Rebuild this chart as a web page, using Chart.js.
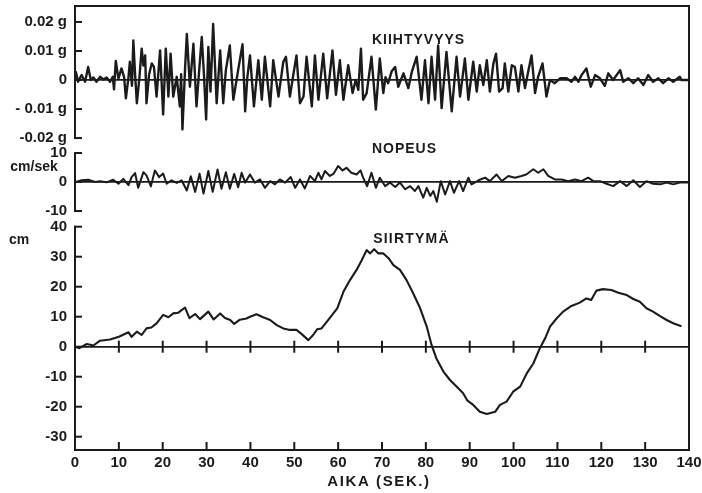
<!DOCTYPE html>
<html>
<head>
<meta charset="utf-8">
<script src="https://cdn.jsdelivr.net/npm/chart.js@4.4.1/dist/chart.umd.min.js"></script>
<style>
  html, body { margin: 0; padding: 0; background: #fff; }
</style>
</head>
<body>
<canvas id="seismo" width="702" height="493"></canvas>
<script>
// [time s, acceleration g]
const accel = [
  [0.2, 0.0028], [0.7, -0.0006], [1.5, 0.0017], [2.3, -0.0006], [3.0, 0.0045], [3.6, 0.0000],
  [4.2, 0.0009], [4.9, -0.0006], [5.7, 0.0011], [6.5, 0.0002], [7.2, 0.0009], [8.0, -0.0006],
  [8.6, 0.0011], [8.9, -0.0032], [9.3, 0.0066], [9.9, 0.0005], [10.6, 0.0040], [11.2, 0.0010],
  [11.6, -0.0063], [12.2, 0.0010], [12.5, 0.0063], [13.0, -0.0020], [13.3, 0.0136], [13.7, 0.0020],
  [14.1, -0.0080], [14.7, 0.0010], [15.2, 0.0108], [15.6, 0.0050], [16.0, 0.0085], [16.3, -0.0080],
  [16.9, 0.0020], [17.5, 0.0057], [18.0, 0.0045], [18.6, -0.0057], [19.4, 0.0102], [20.1, -0.0119],
  [20.7, 0.0108], [21.3, -0.0057], [21.8, 0.0091], [22.4, -0.0057], [23.2, 0.0011], [23.9, -0.0091],
  [24.2, 0.0020], [24.5, -0.0170], [25.1, 0.0040], [25.5, 0.0159], [26.2, -0.0023], [27.0, 0.0125],
  [27.7, -0.0091], [28.3, 0.0030], [28.9, 0.0148], [29.4, 0.0020], [29.9, -0.0136], [30.4, 0.0114],
  [30.9, -0.0040], [31.5, 0.0193], [32.3, -0.0080], [33.1, 0.0102], [33.8, -0.0080], [34.4, 0.0034],
  [35.3, 0.0119], [36.1, -0.0068], [37.2, 0.0034], [38.2, 0.0123], [38.8, -0.0108], [39.3, 0.0010],
  [39.9, 0.0085], [40.8, -0.0091], [41.8, 0.0068], [42.6, -0.0068], [43.3, 0.0080], [44.5, -0.0091],
  [45.2, 0.0068], [46.4, -0.0057], [47.5, 0.0063], [48.1, 0.0080], [49.0, -0.0057], [49.8, 0.0020],
  [50.5, 0.0085], [51.3, -0.0080], [52.1, -0.0057], [52.8, 0.0080], [54.0, -0.0091], [54.7, 0.0085],
  [55.5, -0.0068], [56.6, 0.0091], [57.5, -0.0063], [58.7, 0.0102], [59.5, -0.0051], [60.4, 0.0068],
  [61.2, -0.0068], [62.3, 0.0051], [63.3, -0.0045], [64.0, 0.0000], [64.6, -0.0034], [65.2, 0.0108],
  [65.7, -0.0068], [66.5, -0.0045], [67.6, 0.0080], [68.6, -0.0102], [69.5, 0.0074], [70.3, -0.0045],
  [70.8, 0.0010], [71.4, -0.0011], [72.2, 0.0030], [73.0, 0.0045], [73.7, -0.0023], [74.9, 0.0023],
  [76.0, -0.0028], [76.8, 0.0028], [77.9, 0.0080], [79.0, -0.0068], [79.8, 0.0068], [80.6, -0.0080],
  [81.3, 0.0080], [82.1, -0.0068], [82.8, 0.0119], [83.6, -0.0097], [84.7, 0.0097], [85.9, -0.0108],
  [87.0, 0.0080], [87.8, -0.0057], [88.9, 0.0074], [89.7, -0.0068], [90.8, 0.0063], [91.6, -0.0040],
  [92.3, 0.0051], [93.1, -0.0017], [93.9, 0.0068], [94.6, -0.0040], [95.4, 0.0057], [96.0, 0.0091],
  [96.7, -0.0040], [97.5, -0.0028], [98.0, 0.0057], [98.8, -0.0040], [99.6, 0.0051], [100.3, 0.0045],
  [101.1, -0.0040], [101.8, 0.0051], [102.6, -0.0028], [103.4, 0.0034], [104.1, 0.0085], [104.9, -0.0045],
  [105.6, 0.0011], [106.6, 0.0057], [107.5, -0.0057], [108.3, 0.0000], [109.4, -0.0011], [110.6, 0.0006],
  [112.1, 0.0006], [113.2, -0.0006], [114.0, 0.0011], [114.8, -0.0006], [115.5, 0.0017], [116.6, 0.0040],
  [117.6, -0.0023], [118.6, 0.0017], [119.7, 0.0006], [120.8, -0.0020], [121.6, 0.0023], [122.7, 0.0000],
  [124.3, 0.0034], [125.0, -0.0006], [126.2, 0.0006], [127.3, -0.0011], [128.4, 0.0006], [129.6, -0.0017],
  [130.7, 0.0017], [131.8, -0.0006], [133.0, 0.0006], [134.1, -0.0011], [135.3, 0.0006], [136.4, -0.0006],
  [137.9, 0.0011], [138.3, 0.0000], [139.8, 0.0000]
];

// [time s, velocity cm/s]
const velocity = [
  [0.2, 0.0], [1.5, 0.6], [3.0, 0.8], [4.6, 0.0], [5.7, 0.3], [7.2, -0.1], [8.7, 0.8], [9.9, -0.6],
  [11.0, 1.1], [12.2, -1.1], [12.9, 1.7], [13.7, 3.1], [14.4, -2.0], [15.6, 3.4], [16.3, 2.3], [17.3, -1.5],
  [18.2, 4.0], [19.2, 1.7], [20.1, 2.9], [20.9, -0.6], [22.0, 0.6], [23.2, -0.3], [24.3, 0.6], [25.5, -2.9],
  [26.4, 2.0], [27.4, -3.4], [28.4, 2.9], [29.3, -4.0], [30.4, 3.8], [31.4, -3.4], [32.5, 4.3], [33.4, -2.3],
  [34.4, 3.4], [35.3, -2.3], [36.3, 2.8], [37.2, -1.8], [38.0, 3.2], [38.8, -0.2], [39.9, 2.6], [41.0, -0.2],
  [42.2, 0.9], [43.3, -2.0], [44.5, 0.3], [45.6, -0.8], [46.7, 0.9], [47.9, -0.2], [49.2, 1.7], [50.2, -2.0],
  [51.3, 0.9], [52.4, -2.2], [53.6, 2.1], [54.7, 0.3], [55.5, 3.2], [56.2, 0.9], [57.0, 3.8], [58.1, 2.1],
  [59.0, 2.9], [60.0, 5.5], [61.0, 4.0], [61.9, 4.9], [63.0, 3.2], [64.2, 2.6], [65.1, 4.0], [65.7, 1.5],
  [66.6, -1.4], [67.6, 3.2], [68.6, -2.0], [69.5, 1.5], [70.7, -1.4], [71.8, -0.2], [73.0, -1.7], [74.1, -0.2],
  [75.3, -2.5], [76.4, -1.4], [77.5, -3.1], [78.3, -1.4], [79.4, -5.4], [80.2, -2.0], [81.0, -4.8], [81.7, -3.1],
  [82.5, -6.8], [83.4, 0.3], [84.4, -4.3], [85.5, 0.3], [86.4, -3.7], [87.6, 0.3], [88.5, -3.1], [89.7, 1.5],
  [90.4, -0.8], [92.0, 0.6], [93.5, 1.5], [94.6, 0.3], [96.1, 2.6], [97.3, 0.3], [98.8, 2.1], [100.3, 1.5],
  [101.8, 2.1], [102.9, 2.6], [104.5, 4.4], [105.6, 3.2], [106.8, 4.4], [107.9, 2.1], [109.4, 0.9], [110.9, 0.9],
  [112.5, 0.3], [114.0, 0.9], [115.5, 0.3], [117.0, 1.5], [118.2, 0.3], [119.7, 0.3], [121.2, -0.6], [122.7, -1.4],
  [124.3, 0.3], [125.8, -1.4], [127.3, 0.6], [128.8, -1.7], [130.3, 0.3], [131.8, -0.6], [133.4, -0.8], [134.9, -0.2],
  [136.4, -0.8], [137.9, -0.2], [139.8, -0.2]
];

// [time s, displacement cm]
const displacement = [
  [0.0, 0.0], [1.0, -0.5], [2.7, 0.9], [4.2, 0.4], [5.7, 2.0], [8.0, 2.4], [10.0, 3.3], [12.2, 4.8],
  [12.9, 3.3], [14.1, 5.0], [15.2, 3.9], [16.3, 6.1], [17.4, 6.4], [18.6, 7.8], [20.1, 10.6], [21.3, 9.8],
  [22.4, 11.1], [23.5, 11.3], [24.3, 12.2], [25.1, 13.0], [26.1, 9.5], [27.4, 10.9], [28.5, 9.2], [30.4, 11.7],
  [31.6, 9.1], [33.1, 11.1], [34.2, 9.6], [35.4, 8.9], [36.3, 7.6], [37.6, 9.0], [39.1, 9.4], [39.9, 10.0],
  [41.4, 10.8], [42.9, 9.8], [44.5, 8.9], [46.0, 7.2], [47.5, 6.1], [49.0, 5.6], [50.5, 5.6], [51.7, 4.2],
  [53.2, 2.2], [54.3, 3.9], [55.2, 5.8], [56.2, 6.1], [57.4, 8.3], [58.9, 11.1], [59.8, 12.8], [61.2, 18.3],
  [62.7, 22.2], [64.2, 25.6], [65.4, 28.9], [66.5, 32.2], [67.3, 31.1], [68.2, 32.5], [69.2, 31.1], [70.3, 31.1],
  [71.5, 29.5], [72.6, 27.2], [74.1, 25.6], [75.6, 22.2], [77.1, 17.8], [78.7, 12.8], [80.2, 6.7], [81.3, 0.6],
  [82.4, -3.9], [84.0, -8.3], [85.5, -11.1], [87.0, -13.3], [88.5, -15.5], [89.5, -18.0], [90.8, -19.4], [92.3, -21.7],
  [93.9, -22.4], [95.8, -21.7], [96.9, -19.4], [98.4, -18.3], [99.9, -15.0], [101.5, -13.3], [103.0, -8.9], [104.5, -5.6],
  [106.0, -0.5], [107.2, 2.8], [108.3, 6.7], [109.8, 9.4], [111.3, 11.7], [113.2, 13.6], [115.1, 14.7], [116.6, 16.1],
  [117.7, 15.6], [118.9, 18.7], [120.4, 19.2], [122.3, 18.9], [123.9, 18.0], [125.8, 17.2], [127.3, 15.9], [128.8, 15.0],
  [130.3, 12.8], [131.8, 11.7], [133.4, 10.2], [134.9, 8.9], [136.4, 7.8], [138.1, 6.9]
];

const accTicks = [-0.02, -0.01, 0, 0.01, 0.02];
const accTickLabels = ["-0.02 g", "- 0.01 g", "0", "0.01 g", "0.02 g"];
const velTicks = [-10, 0, 10];
const velTickLabels = ["-10", "0", "10"];
const dispTicks = [-30, -20, -10, 0, 10, 20, 30, 40];
const dispTickLabels = ["-30", "-20", "-10", "0", "10", "20", "30", "40"];

const INK = "#1b1b1b";
const FONT = "'Liberation Sans', Arial, sans-serif";

const toPoints = (rows) => rows.map(([x, y]) => ({x, y}));

function panelAxis(min, max, values, labels, stackWeight, weight){
  return {
    type: "linear",
    position: "left",
    stack: "panels",
    stackWeight: stackWeight,
    weight: weight,
    min: min,
    max: max,
    afterBuildTicks: (s) => { s.ticks = values.map((v) => ({value: v})); },
    afterFit: (s) => { s.width = 75; s.paddingTop = 0; s.paddingBottom = 0; },
    ticks: {
      color: INK,
      padding: 8,
      autoSkip: false,
      font: {family: FONT, size: 15, weight: "bold"},
      callback: (v) => labels[values.indexOf(v)]
    },
    grid: {
      drawTicks: false,
      lineWidth: 1.8,
      color: (c) => (c.tick && c.tick.value === 0 ? INK : "rgba(0,0,0,0)")
    },
    border: {display: false}
  };
}

// frame, inward ticks and captions, placed through the scales
const frame = {
  id: "frame",
  afterDraw(chart){
    const {ctx, chartArea: a, scales} = chart;
    const line = (x1, y1, x2, y2) => { ctx.beginPath(); ctx.moveTo(x1, y1); ctx.lineTo(x2, y2); ctx.stroke(); };
    ctx.save();
    ctx.strokeStyle = INK;
    ctx.lineWidth = 2;
    ctx.lineCap = "square";
    line(a.left, a.top, a.right, a.top);
    line(a.right, a.top, a.right, a.bottom);

    const acc = scales.acc, vel = scales.vel, disp = scales.disp, x = scales.x;
    line(a.left, a.top, a.left, acc.getPixelForValue(-0.02));
    line(a.left, vel.getPixelForValue(10), a.left, vel.getPixelForValue(-10));
    line(a.left, disp.getPixelForValue(40), a.left, a.bottom);
    [[acc, accTicks], [vel, velTicks], [disp, dispTicks]].forEach(([s, vals]) => {
      vals.forEach((v) => {
        const py = s.getPixelForValue(v);
        line(a.left, py, a.left + 6, py);
      });
    });

    const zero = disp.getPixelForValue(0);
    x.ticks.forEach((t) => {
      const px = x.getPixelForValue(t.value);
      if (t.value > 0 && t.value < 140){
        line(px, a.bottom, px, a.bottom - 7);
        line(px, zero - 5, px, zero + 5);
      }
    });

    ctx.fillStyle = INK;
    ctx.textBaseline = "middle";
    ctx.font = "bold 14px " + FONT;
    const caption = (text, px, py, spacing, align) => {
      ctx.letterSpacing = spacing + "px";
      ctx.textAlign = align;
      ctx.fillText(text, px, py);
    };
    caption("KIIHTYVYYS", x.getPixelForValue(67.7), acc.getPixelForValue(0.0138), 1, "left");
    caption("NOPEUS", x.getPixelForValue(67.7), vel.getPixelForValue(11.5), 1, "left");
    caption("SIIRTYMÄ", x.getPixelForValue(68), disp.getPixelForValue(36), 1.2, "left");
    caption("cm/sek", 34, vel.getPixelForValue(5), 0, "center");
    caption("cm", 19, disp.getPixelForValue(35.5), 0, "center");
    ctx.font = "bold 15px " + FONT;
    caption("AIKA (SEK.)", (a.left + a.right) / 2 - 3, a.bottom + 32, 1.6, "center");
    ctx.restore();
  }
};

new Chart(document.getElementById("seismo"), {
  type: "line",
  data: {
    datasets: [
      {label: "KIIHTYVYYS", data: toPoints(accel), yAxisID: "acc", borderWidth: 2.4},
      {label: "NOPEUS", data: toPoints(velocity), yAxisID: "vel", borderWidth: 2},
      {label: "SIIRTYMÄ", data: toPoints(displacement), yAxisID: "disp", borderWidth: 2.1}
    ]
  },
  options: {
    responsive: false,
    animation: false,
    events: [],
    layout: {padding: {top: 6, right: 13, left: 0, bottom: 0}},
    elements: {
      line: {borderColor: INK, tension: 0, borderJoinStyle: "round", borderCapStyle: "round"},
      point: {radius: 0}
    },
    plugins: {legend: {display: false}, tooltip: {enabled: false}},
    scales: {
      x: {
        type: "linear",
        min: 0,
        max: 140,
        afterFit: (s) => { s.height = 43; s.paddingLeft = 0; s.paddingRight = 0; },
        ticks: {stepSize: 10, color: INK, padding: 4, maxRotation: 0, autoSkip: false, font: {family: FONT, size: 15, weight: "bold"}},
        grid: {display: false, drawTicks: false, tickLength: 0},
        border: {color: INK, width: 2}
      },
      acc: panelAxis(-0.0217, 0.0255, accTicks, accTickLabels, 137, 3),
      vel: panelAxis(-12.4, 13.45, velTicks, velTickLabels, 75, 2),
      disp: panelAxis(-34.43, 42.9, dispTicks, dispTickLabels, 232, 1)
    }
  },
  plugins: [frame]
});
</script>
</body>
</html>
